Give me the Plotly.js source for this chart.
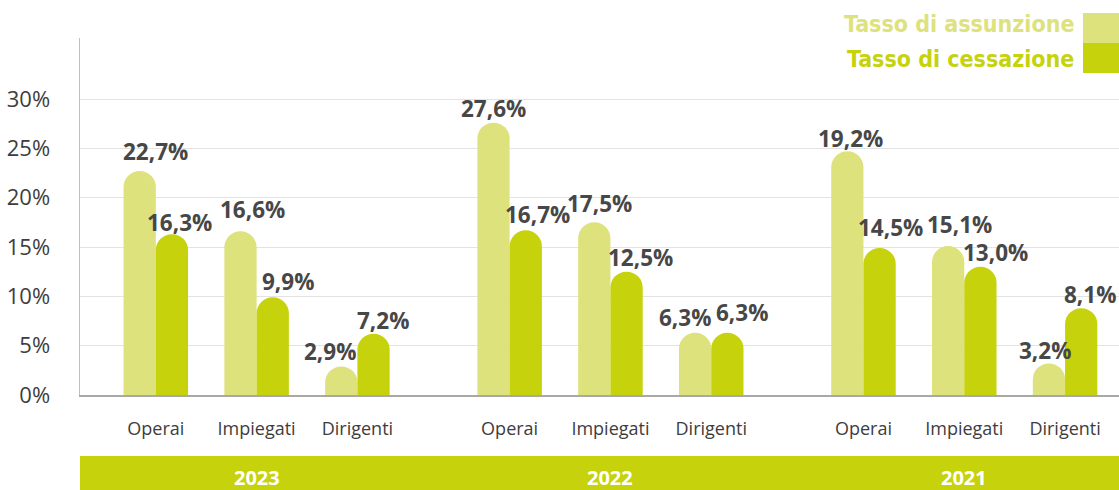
<!DOCTYPE html>
<html>
<head>
<meta charset="utf-8">
<script src="https://cdn.plot.ly/plotly-3.0.1.min.js"></script>
<style>html,body{margin:0;padding:0;background:#fff;}#chart{width:1119px;height:490px;}</style>
</head>
<body>
<div id="chart"></div>
<script>
const categories = ["Operai", "Impiegati", "Dirigenti"];
const years = ["2023", "2022", "2021"];
// bar heights as drawn (percent)
const assunzione = [22.7, 16.6, 2.9, 27.6, 17.5, 6.3, 24.7, 15.1, 3.2];
const cessazione = [16.3, 9.9, 6.2, 16.7, 12.5, 6.3, 14.9, 13.0, 8.8];
// printed labels
const assunzioneLabels = ["22,7%", "16,6%", "2,9%", "27,6%", "17,5%", "6,3%", "19,2%", "15,1%", "3,2%"];
const cessazioneLabels = ["16,3%", "9,9%", "7,2%", "16,7%", "12,5%", "6,3%", "14,5%", "13,0%", "8,1%"];
const yTicks = [0, 5, 10, 15, 20, 25, 30];

// label placement style (pixel nudges relative to bar top centre)
const dxA = [16, 12, -11, 0, 5, -10, 3, 11, -4];
const dyA = [20, 22, 15, 14, 19, 15, 13, 22, 13];
const dxC = [8, 15, 9, 12, 14, 15, 11, 15, 9];
const dyC = [12, 16, 13, 16, 14, 20, 20, 14, 14];

const GROUP_STEP = 3.51;
const BARGAP = 0.36;
const HALF = (1 - BARGAP) / 4; // centre offset of each bar in a pair
const xs = [], xtext = [];
years.forEach((y, g) => categories.forEach((c, i) => { xs.push(g * GROUP_STEP + i); xtext.push(c); }));
const yearX = years.map((y, g) => g * GROUP_STEP + 1);

const LIGHT = "#dde27d", DARK = "#c6d30c";
const FONT = "Open Sans, Noto Sans, sans-serif";
const LEGFONT = "DejaVu Sans Condensed, DejaVu Sans, sans-serif";

const traces = [
  { type: "bar", name: "Tasso di assunzione", x: xs, y: assunzione, hoverinfo: "skip",
    marker: { color: LIGHT, cornerradius: "50%" } },
  { type: "bar", name: "Tasso di cessazione", x: xs, y: cessazione, hoverinfo: "skip",
    marker: { color: DARK, cornerradius: "50%" } }
];

const PLOT_H = 490 - 38 - 95;
const py = px => (395 - px) / PLOT_H; // pixel row -> paper y
const pxX = px => (px - 80) / 1039;

const labelFont = { family: FONT, size: 22.5, color: "#474747", weight: 700 };
const annotations = [];
xs.forEach((x, i) => {
  annotations.push({ x: x - HALF, y: assunzione[i], xref: "x", yref: "y", text: assunzioneLabels[i],
    showarrow: false, xanchor: "center", yanchor: "middle", xshift: dxA[i], yshift: dyA[i], font: labelFont });
  annotations.push({ x: x + HALF, y: cessazione[i], xref: "x", yref: "y", text: cessazioneLabels[i],
    showarrow: false, xanchor: "center", yanchor: "middle", xshift: dxC[i], yshift: dyC[i], font: labelFont });
});
years.forEach((y, g) => annotations.push({
  x: yearX[g], xref: "x", y: py(477), yref: "paper", text: "<b>" + y + "</b>",
  showarrow: false, font: { family: FONT, size: 20, color: "#ffffff" }, xanchor: "center", yanchor: "middle"
}));
annotations.push({ x: pxX(1076), xref: "paper", y: py(24), yref: "paper", text: "<b>Tasso di assunzione</b>",
  showarrow: false, xanchor: "right", yanchor: "middle", font: { family: LEGFONT, size: 23, color: LIGHT } });
annotations.push({ x: pxX(1076), xref: "paper", y: py(59), yref: "paper", text: "<b>Tasso di cessazione</b>",
  showarrow: false, xanchor: "right", yanchor: "middle", font: { family: LEGFONT, size: 23, color: DARK } });

const shapes = [
  { type: "rect", xref: "paper", yref: "paper", x0: 0, x1: 1, y0: py(490), y1: py(456), fillcolor: DARK, line: { width: 0 }, layer: "below" },
  { type: "rect", xref: "paper", yref: "paper", x0: pxX(1083), x1: 1, y0: py(43), y1: py(13), fillcolor: LIGHT, line: { width: 0 } },
  { type: "rect", xref: "paper", yref: "paper", x0: pxX(1083), x1: 1, y0: py(73), y1: py(43), fillcolor: DARK, line: { width: 0 } }
];

const layout = {
  width: 1119, height: 490,
  margin: { l: 80, r: 0, t: 38, b: 95 },
  paper_bgcolor: "#ffffff", plot_bgcolor: "#ffffff",
  showlegend: false,
  barmode: "group", bargap: BARGAP, bargroupgap: 0,
  xaxis: {
    range: [-0.752, 2 * GROUP_STEP + 2.535],
    tickmode: "array", tickvals: xs, ticktext: xtext,
    tickfont: { family: FONT, size: 18, color: "#3d3d3d" },
    ticks: "", ticklabelstandoff: 17,
    showgrid: false, zeroline: false,
    showline: true, linecolor: "#a8a8a8", linewidth: 1.5
  },
  yaxis: {
    range: [0, PLOT_H / (296 / 30)],
    tickmode: "array", tickvals: yTicks, ticktext: yTicks.map(v => v + "%"),
    tickfont: { family: FONT, size: 22, color: "#3d3d3d" },
    ticks: "", ticklabelstandoff: 24,
    showgrid: true, gridcolor: "#e3e3e3", gridwidth: 1,
    zeroline: false, showline: true, linecolor: "#b9bfcc", linewidth: 1.5
  },
  annotations: annotations,
  shapes: shapes
};

Plotly.newPlot("chart", traces, layout, { staticPlot: true, displayModeBar: false });
</script>
</body>
</html>
